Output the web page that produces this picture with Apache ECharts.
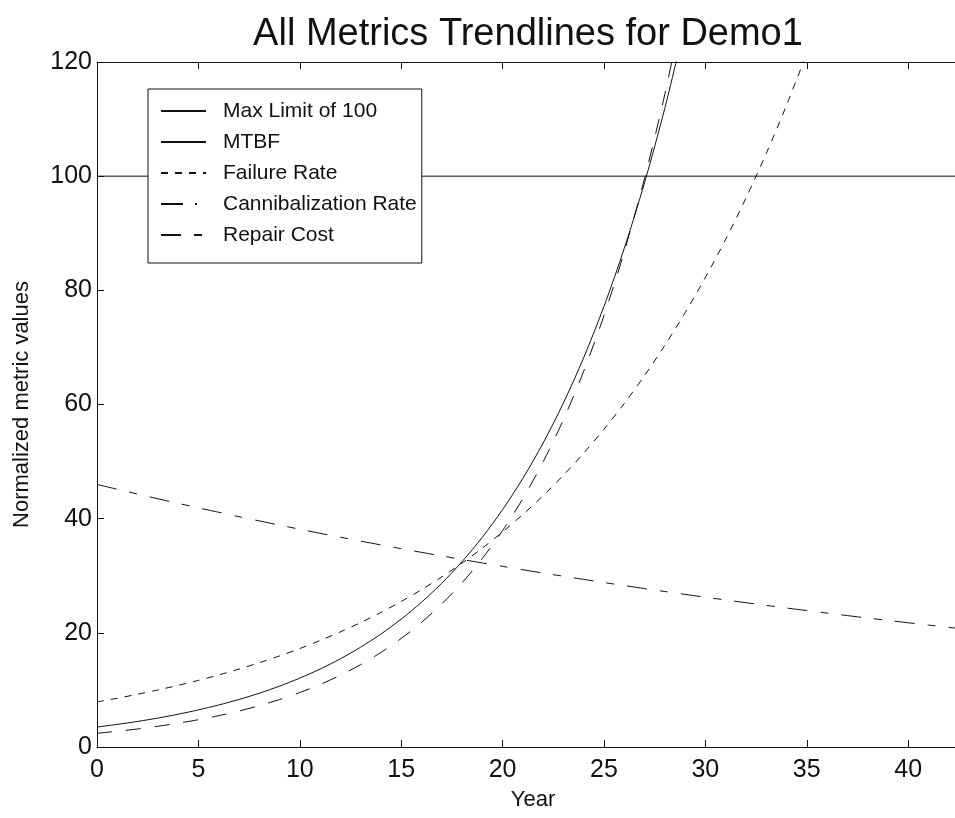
<!DOCTYPE html>
<html>
<head>
<meta charset="utf-8">
<title>All Metrics Trendlines for Demo1</title>
<script src="https://cdn.jsdelivr.net/npm/echarts@6/dist/echarts.min.js"></script>
<style>
  html, body { margin: 0; padding: 0; background: #ffffff; overflow: hidden; }
  /* the axes run a little past the right edge of the window */
  #chart { width: 969px; height: 818px; }
</style>
</head>
<body>
<div id="chart"></div>
<script>
// Years on the horizontal axis
const years = [0,1,2,3,4,5,6,7,8,9,10,11,12,13,14,15,16,17,18,19,20,21,22,23,24,25,26,27,28,29,30,31,32,33,34,35,36,37,38,39,40,41,42,43];

// Normalized metric values per year
const maxLimit = [[0, 100], [43, 100]];
const mtbf = [3.5, 3.96, 4.48, 5.07, 5.74, 6.5, 7.36, 8.32, 9.42, 10.66, 12.07, 13.65, 15.45, 17.49, 19.79, 22.4, 25.35, 28.69, 32.47, 36.74, 41.58, 47.06, 53.26, 60.27, 68.21, 77.19, 87.36, 98.86, 111.9, 126.6];
const failureRate = [7.9, 8.54, 9.24, 9.99, 10.8, 11.67, 12.62, 13.65, 14.76, 15.95, 17.25, 18.65, 20.17, 21.8, 23.57, 25.49, 27.56, 29.8, 32.22, 34.84, 37.67, 40.73, 44.04, 47.61, 51.48, 55.66, 60.18, 65.07, 70.36, 76.07, 82.25, 88.93, 96.16, 103.97, 112.41, 121.54];
const cannibalizationRate = [2.4, 2.76, 3.16, 3.63, 4.17, 4.78, 5.49, 6.3, 7.24, 8.31, 9.54, 10.95, 12.57, 14.43, 16.56, 19.01, 21.83, 25.06, 28.76, 33.02, 37.91, 43.52, 49.96, 57.35, 65.84, 75.58, 86.77, 99.61, 114.35, 131.3];
const repairCost = [46, 45.15, 44.31, 43.49, 42.68, 41.89, 41.12, 40.35, 39.61, 38.87, 38.15, 37.44, 36.75, 36.07, 35.4, 34.74, 34.1, 33.47, 32.85, 32.24, 31.64, 31.05, 30.48, 29.91, 29.36, 28.81, 28.28, 27.76, 27.24, 26.74, 26.24, 25.76, 25.28, 24.81, 24.35, 23.9, 23.46, 23.02, 22.59, 22.18, 21.76, 21.36, 20.96, 20.57];

// Axis ticks
const xTicks = { min: 0, max: 43, interval: 5 };
const yTicks = { min: 0, max: 120, interval: 20 };

const FONT = '"Liberation Sans", Arial, Helvetica, sans-serif';
const INK = '#111111';

function pairs(values) {
  return values.map((v, i) => [years[i], v]);
}

function curve(name, values, dash) {
  return {
    name: name,
    type: 'line',
    data: pairs(values),
    symbol: 'none',
    smooth: 0.3,
    clip: true,
    silent: true,
    lineStyle: { color: INK, width: 1, type: dash },
    itemStyle: { color: INK }
  };
}

const chart = echarts.init(document.getElementById('chart'), null, { renderer: 'canvas' });

const axisCommon = {
  type: 'value',
  axisLine: { show: true, onZero: false, lineStyle: { color: INK, width: 1 } },
  axisTick: { show: true, inside: true, length: 7, lineStyle: { color: INK, width: 1 } },
  splitLine: { show: false }
};

chart.setOption({
  animation: false,
  backgroundColor: '#ffffff',
  textStyle: { fontFamily: FONT },
  title: {
    text: 'All Metrics Trendlines for Demo1',
    left: 523,
    top: 11,
    textAlign: 'center',
    textStyle: { fontFamily: FONT, fontSize: 38, fontWeight: 'normal', color: INK }
  },
  legend: {
    orient: 'vertical',
    left: 148,
    top: 89,
    padding: [11, 5, 17, 12],
    itemWidth: 45,
    itemHeight: 12,
    itemGap: 9,
    backgroundColor: '#ffffff',
    borderColor: INK,
    borderWidth: 1,
    borderRadius: 0,
    selectedMode: false,
    itemStyle: { opacity: 0 },
    textStyle: { fontFamily: FONT, fontSize: 21, color: INK, lineHeight: 22, padding: [0, 0, 0, 12] },
    data: [
      'Max Limit of 100',
      'MTBF',
      'Failure Rate',
      { name: 'Cannibalization Rate', lineStyle: { type: [22, 12, 2, 9] } },
      'Repair Cost'
    ]
  },
  grid: { left: 97, right: 0, top: 62, bottom: 71, containLabel: false },
  xAxis: [
    Object.assign({}, axisCommon, xTicks, {
      position: 'bottom',
      name: 'Year',
      nameLocation: 'middle',
      nameGap: 42,
      nameTextStyle: { fontFamily: FONT, fontSize: 22, color: INK },
      axisLabel: { fontFamily: FONT, fontSize: 25, color: INK, margin: 11, showMaxLabel: false }
    }),
    Object.assign({}, axisCommon, xTicks, {
      position: 'top',
      axisLabel: { show: false }
    })
  ],
  yAxis: [
    Object.assign({}, axisCommon, yTicks, {
      position: 'left',
      name: 'Normalized metric values',
      nameLocation: 'middle',
      nameGap: 64,
      nameTextStyle: { fontFamily: FONT, fontSize: 22, color: INK },
      axisLabel: { fontFamily: FONT, fontSize: 25, color: INK, margin: 5 }
    }),
    Object.assign({}, axisCommon, yTicks, {
      position: 'right',
      axisLabel: { show: false }
    })
  ],
  series: [
    {
      name: 'Max Limit of 100',
      type: 'line',
      data: maxLimit,
      symbol: 'none',
      silent: true,
      lineStyle: { color: INK, width: 1, type: 'solid' },
      itemStyle: { color: INK }
    },
    curve('MTBF', mtbf, 'solid'),
    curve('Failure Rate', failureRate, [7, 7]),
    curve('Cannibalization Rate', cannibalizationRate, [15, 14]),
    curve('Repair Cost', repairCost, [20, 13, 8, 13])
  ]
});
</script>
</body>
</html>
